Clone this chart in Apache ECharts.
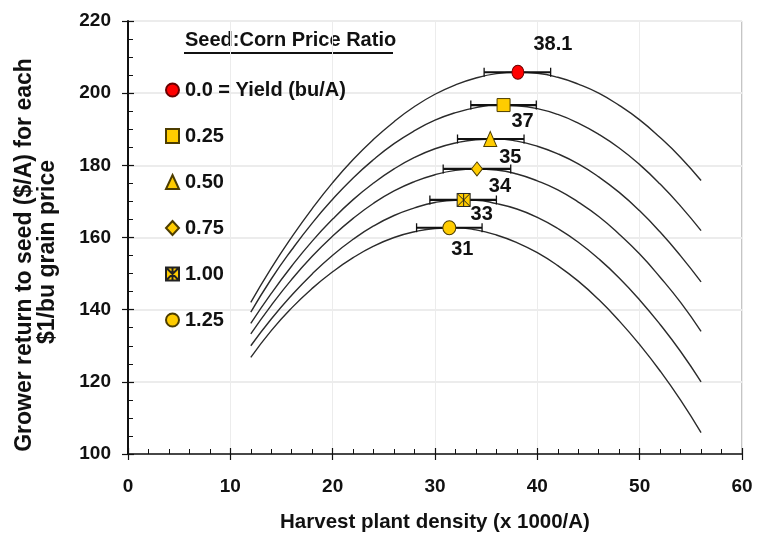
<!DOCTYPE html>
<html>
<head>
<meta charset="utf-8">
<script src="https://cdn.jsdelivr.net/npm/echarts@6/dist/echarts.min.js"></script>
<style>
html,body{margin:0;padding:0;background:#fff;}
#chart{width:769px;height:550px;}
</style>
</head>
<body>
<div id="chart"></div>
<script>
// ---- data ----
const xDensity = [12,14,16,18,20,22,24,26,28,30,32,34,36,38,40,42,44,46,48,50,52,54,56];
const ret000 = [142.0,151.5,160.1,168.0,175.2,181.6,187.2,192.1,196.3,199.7,202.3,204.2,205.4,205.8,205.5,204.4,202.5,200.0,196.6,192.6,187.7,182.2,175.8];
const ret025 = [139.3,148.5,156.6,164.0,170.6,176.5,181.6,186.0,189.6,192.5,194.6,196.0,196.7,196.5,195.7,194.1,191.7,188.6,184.8,180.2,174.8,168.7,161.9];
const ret050 = [136.2,144.5,152.1,159.0,165.1,170.5,175.1,179.0,182.2,184.6,186.2,187.1,187.3,186.7,185.3,183.2,180.4,176.8,172.5,167.4,161.5,154.9,147.7];
const ret075 = [133.3,141.2,148.4,154.8,160.4,165.3,169.5,172.9,175.5,177.4,178.6,179.0,178.7,177.6,175.7,173.2,169.8,165.8,160.9,155.4,149.0,142.0,134.0];
const ret100 = [130.0,137.4,144.0,149.9,155.1,159.5,163.2,166.1,168.2,169.7,170.3,170.3,169.4,167.9,165.6,162.5,158.7,154.1,148.8,142.7,135.9,128.4,120.0];
const ret125 = [126.8,134.2,140.5,145.9,150.5,154.4,157.6,160.0,161.6,162.5,162.7,162.1,160.7,158.6,155.8,152.2,147.9,142.8,136.9,130.3,123.0,114.9,105.9];
const ratioNames = ['0.0 = Yield (bu/A)','0.25','0.50','0.75','1.00','1.25'];
const optDensity = [38.1, 36.7, 35.4, 34.1, 32.8, 31.4];
const optReturn = [205.8, 196.7, 187.3, 179.0, 170.4, 162.7];
const barLow = [34.8, 33.5, 32.2, 30.8, 29.5, 28.2];
const barHigh = [41.3, 39.9, 38.7, 37.4, 36.0, 34.6];
const optLabels = ['38.1','37','35','34','33','31'];

// ---- styling ----
const FONT = "'Liberation Sans',Arial,sans-serif";
const TXT = '#111';
const GOLD = '#ffcc00';
const curves = [ret000, ret025, ret050, ret075, ret100, ret125];
const symbols = ['circle','rect','triangle','diamond',
  'path://M0,0L10,0L10,10L0,10Z M0,0L10,10 M10,0L0,10 M5,0L5,10','circle'];
const symSizes = [[12,14],[13,13],[13,15],[11,14],[13,13],[13,14]];
const fills = ['#ff0000',GOLD,GOLD,GOLD,GOLD,GOLD];
const borders = ['#6a0000','#4d3d00','#4d3d00','#4d3d00','#222','#4d3d00'];
const labelOffsets = [[35,-28],[19,16],[20,18],[23,18],[18,15],[13,22]];

const series = [];
curves.forEach((c, i) => {
  series.push({
    type: 'line', name: 'curve' + i, silent: true, smooth: true,
    showSymbol: false, symbol: 'none', z: 2,
    data: xDensity.map((x, j) => [x, c[j]]),
    lineStyle: { color: '#2b2b2b', width: 1.4 }
  });
});
series.push({
  type: 'custom', name: 'bars', silent: true, z: 3,
  data: optReturn.map((y, i) => [barLow[i], barHigh[i], y]),
  renderItem: function (params, api) {
    const a = api.coord([api.value(0), api.value(2)]);
    const b = api.coord([api.value(1), api.value(2)]);
    const h = 4.5;
    const st = { stroke: '#111', lineWidth: 1.3 };
    return {
      type: 'group',
      children: [
        { type: 'line', shape: { x1: a[0], y1: a[1], x2: b[0], y2: b[1] }, style: { stroke: '#111', lineWidth: 2.2 } },
        { type: 'line', shape: { x1: a[0], y1: a[1]-h, x2: a[0], y2: a[1]+h }, style: st },
        { type: 'line', shape: { x1: b[0], y1: b[1]-h, x2: b[0], y2: b[1]+h }, style: st }
      ]
    };
  }
});
ratioNames.forEach((nm, i) => {
  series.push({
    type: 'scatter', name: nm, z: 5,
    symbol: symbols[i], symbolSize: symSizes[i],
    itemStyle: { color: fills[i], borderColor: borders[i], borderWidth: 1, opacity: 1 },
    data: [[optDensity[i], optReturn[i]]],
    label: {
      show: true, position: 'inside', offset: labelOffsets[i],
      formatter: () => optLabels[i],
      color: TXT, fontFamily: FONT, fontWeight: 'bold', fontSize: 20
    }
  });
});

const chart = echarts.init(document.getElementById('chart'), null, { renderer: 'canvas' });
chart.setOption({
  animation: false,
  backgroundColor: '#fff',
  grid: { left: 128, right: 27, top: 21, bottom: 96, show: true, borderColor: '#8a8a8a', borderWidth: 1 },
  legend: {
    data: ratioNames, orient: 'vertical', left: 160, top: 73,
    itemWidth: 13, itemHeight: 14, itemGap: 22, selectedMode: false,
    textStyle: { color: TXT, fontFamily: FONT, fontWeight: 'bold', fontSize: 20, lineHeight: 24, padding: [0,0,0,1] }
  },
  xAxis: [{
    type: 'value', min: 0, max: 60, interval: 10,
    axisLine: { show: true, onZero: false, lineStyle: { color: '#111', width: 1.5 } },
    axisTick: { show: true, inside: false, length: 6, lineStyle: { color: '#111', width: 1.2 } },
    axisLabel: { margin: 23, color: TXT, fontFamily: FONT, fontWeight: 'bold', fontSize: 19 },
    splitLine: { show: true, lineStyle: { color: '#ececec', width: 1 } },
    name: 'Harvest plant density (x 1000/A)', nameLocation: 'middle', nameGap: 58,
    nameTextStyle: { color: TXT, fontFamily: FONT, fontWeight: 'bold', fontSize: 20.5 }
  }, {
    type: 'value', min: 0, max: 60, interval: 10, position: 'bottom',
    axisLine: { show: false }, axisLabel: { show: false }, splitLine: { show: false },
    axisTick: { show: true, inside: true, length: 6, lineStyle: { color: '#111', width: 1.2 } },
    minorTick: { show: true, splitNumber: 5, length: 5, lineStyle: { color: '#111', width: 1 } }
  }],
  yAxis: [{
    type: 'value', min: 100, max: 220, interval: 20,
    axisLine: { show: true, onZero: false, lineStyle: { color: '#111', width: 2 } },
    axisTick: { show: true, inside: false, length: 6, lineStyle: { color: '#111', width: 1.2 } },
    axisLabel: { margin: 17, color: TXT, fontFamily: FONT, fontWeight: 'bold', fontSize: 19 },
    splitLine: { show: true, lineStyle: { color: '#ececec', width: 2 } }
  }, {
    type: 'value', min: 100, max: 220, interval: 20, position: 'left',
    axisLine: { show: false }, axisLabel: { show: false }, splitLine: { show: false },
    axisTick: { show: true, inside: true, length: 6, lineStyle: { color: '#111', width: 1.2 } },
    minorTick: { show: true, splitNumber: 4, length: 5, lineStyle: { color: '#111', width: 1 } }
  }],
  graphic: [
    { type: 'text', x: 185, y: 40, style: { text: 'Seed:Corn Price Ratio', fill: TXT, font: "bold 20px " + FONT, align: 'left', verticalAlign: 'middle' } },
    { type: 'line', shape: { x1: 184, y1: 53, x2: 393, y2: 53 }, style: { stroke: '#111', lineWidth: 2 } },
    { type: 'text', x: 25, y: 255, rotation: Math.PI / 2, style: { text: 'Grower return to seed ($/A) for each', fill: TXT, font: "bold 23px " + FONT, align: 'center', verticalAlign: 'middle' } },
    { type: 'text', x: 48, y: 252, rotation: Math.PI / 2, style: { text: '$1/bu grain price', fill: TXT, font: "bold 23px " + FONT, align: 'center', verticalAlign: 'middle' } }
  ],
  series: series
});
</script>
</body>
</html>
